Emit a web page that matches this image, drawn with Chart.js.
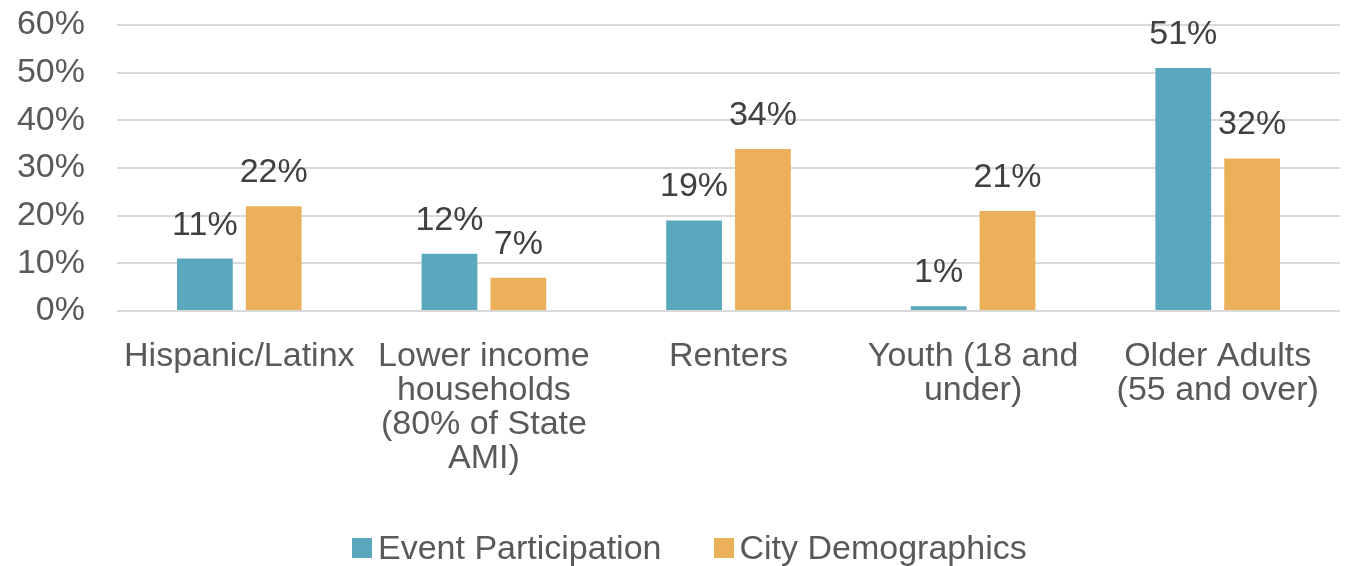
<!DOCTYPE html>
<html>
<head>
<meta charset="utf-8">
<script src="https://cdn.jsdelivr.net/npm/chart.js@4"></script>
<style>
  html, body { margin: 0; padding: 0; background: #fff; }
  #wrap { position: relative; width: 1345px; height: 566px; }
  #legend {
    position: absolute; left: 352px; top: 528px;
    display: flex; align-items: center;
    font: 34px "Liberation Sans", Arial, sans-serif; color: #595959;
  }
  #legend .item { display: flex; align-items: center; margin-right: 52px; }
  #legend .box { width: 20px; height: 20px; margin-right: 6px; }
</style>
</head>
<body>
<div id="wrap">
  <canvas id="chart" width="1345" height="566"></canvas>
  <div id="legend"></div>
</div>
<script>
const categories = [
  "Hispanic/Latinx",
  ["Lower income", "households", "(80% of State", "AMI)"],
  "Renters",
  ["Youth (18 and", "under)"],
  ["Older Adults", "(55 and over)"]
];
const seriesNames = ["Event Participation", "City Demographics"];
const eventParticipation = [11, 12, 19, 1, 51];
const cityDemographics = [22, 7, 34, 21, 32];
const seriesColors = ["#5AA8BD", "#EDB05A"];
const yTicks = [0, 10, 20, 30, 40, 50, 60];

const FONT = '"Liberation Sans", Arial, sans-serif';

// draws the value above each bar, using the bar positions from the library
const valueLabels = {
  id: 'valueLabels',
  afterDatasetsDraw(chart) {
    const ctx = chart.ctx;
    ctx.save();
    ctx.font = '34px ' + FONT;
    ctx.fillStyle = '#404040';
    ctx.textAlign = 'center';
    ctx.textBaseline = 'alphabetic';
    chart.data.datasets.forEach((ds, i) => {
      chart.getDatasetMeta(i).data.forEach((bar, j) => {
        ctx.fillText(ds.data[j] + '%', bar.x, bar.y - 24);
      });
    });
    ctx.restore();
  }
};

new Chart(document.getElementById('chart'), {
  type: 'bar',
  data: {
    labels: categories,
    datasets: [
      { label: seriesNames[0], data: eventParticipation, backgroundColor: seriesColors[0] },
      { label: seriesNames[1], data: cityDemographics, backgroundColor: seriesColors[1] }
    ]
  },
  options: {
    responsive: false,
    animation: false,
    layout: { padding: { top: 25, right: 5, bottom: 85, left: 0 } },
    datasets: { bar: { barPercentage: 0.81, categoryPercentage: 0.563 } },
    plugins: { legend: { display: false }, tooltip: { enabled: false } },
    scales: {
      x: {
        grid: { display: false },
        border: { display: false },
        ticks: {
          color: '#595959',
          padding: 21,
          maxRotation: 0,
          autoSkip: false,
          font: { family: FONT, size: 34, lineHeight: '34px' }
        },
        afterFit: (s) => { s.height = 170; s.paddingLeft = 0; s.paddingRight = 0; }
      },
      y: {
        min: yTicks[0],
        max: yTicks[yTicks.length - 1],
        afterBuildTicks: (s) => { s.ticks = yTicks.map(v => ({ value: v })); },
        grid: { color: '#D9D9D9', lineWidth: 2, drawTicks: false },
        border: { display: false },
        ticks: {
          color: '#595959',
          padding: 32,
          font: { family: FONT, size: 34 },
          callback: (v) => v + '%'
        },
        afterFit: (s) => { s.width = 117; s.paddingTop = 0; s.paddingBottom = 0; }
      }
    }
  },
  plugins: [valueLabels]
});

const legend = document.getElementById('legend');
seriesNames.forEach((name, i) => {
  const item = document.createElement('div');
  item.className = 'item';
  const box = document.createElement('span');
  box.className = 'box';
  box.style.background = seriesColors[i];
  const text = document.createElement('span');
  text.textContent = name;
  item.appendChild(box);
  item.appendChild(text);
  legend.appendChild(item);
});
</script>
</body>
</html>
